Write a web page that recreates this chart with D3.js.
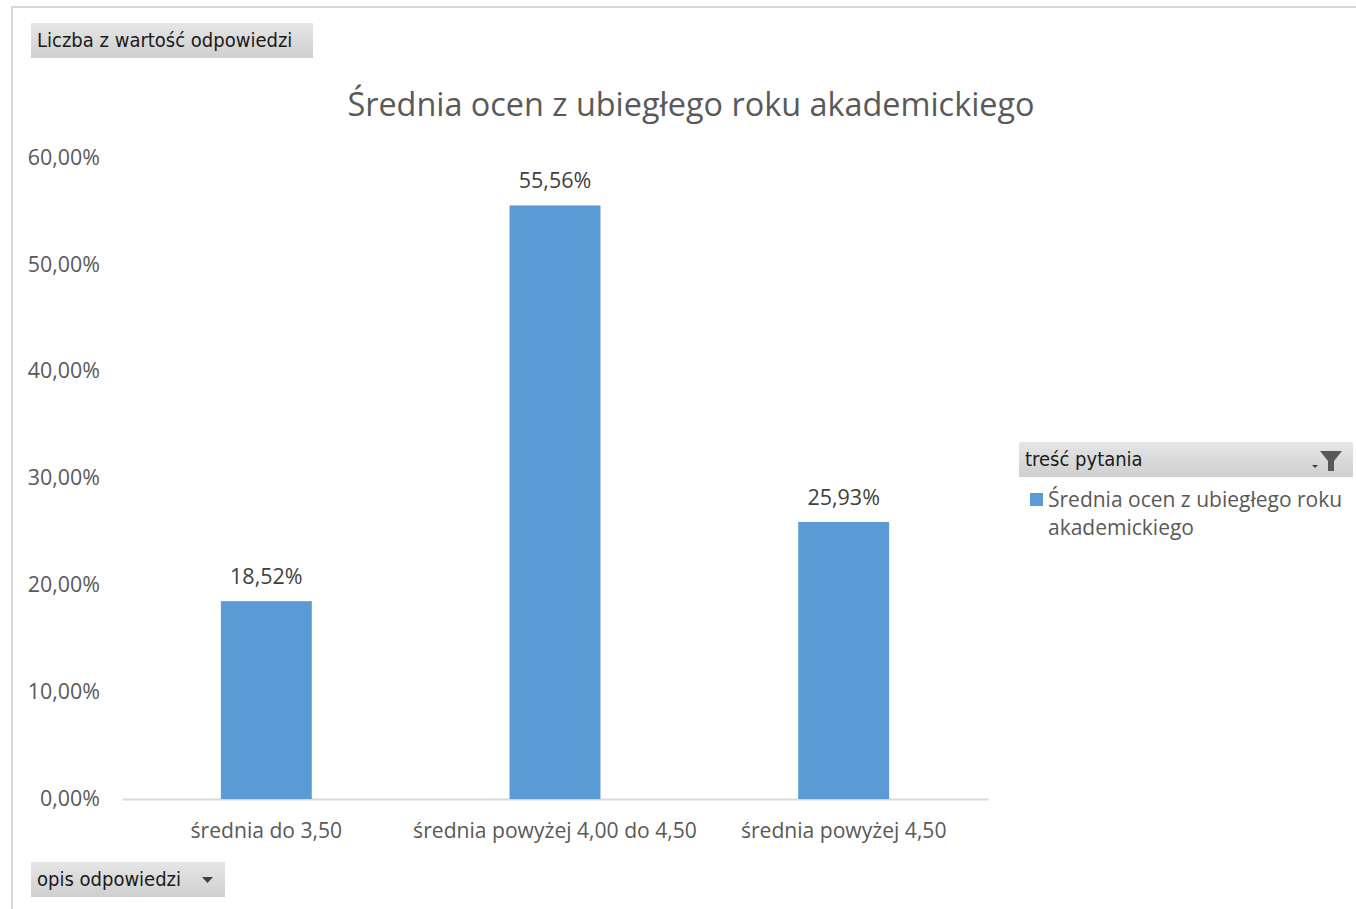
<!DOCTYPE html>
<html><head><meta charset="utf-8">
<script src="https://cdn.jsdelivr.net/npm/d3@7"></script>
<style>
html,body{margin:0;padding:0;background:#fff;}
svg text{font-family:"Open Sans","Noto Sans",sans-serif;}
</style></head>
<body><svg id="c" width="1356" height="909"></svg>
<script>
const categories = ["średnia do 3,50", "średnia powyżej 4,00 do 4,50", "średnia powyżej 4,50"];
const values = [0.1852, 0.5556, 0.2593];
const yTicks = [0, 0.1, 0.2, 0.3, 0.4, 0.5, 0.6];
const title = "Średnia ocen z ubiegłego roku akademickiego";
const seriesName = "Średnia ocen z ubiegłego roku akademickiego";

const svg = d3.select("#c");
const fmt = v => (v*100).toFixed(2).replace(".", ",") + "%";
const textCol = "#595959";
const barCol = "#5b9bd5";

// outer border
svg.append("path").attr("d","M12,909 V7 H1356").attr("fill","none").attr("stroke","#d9d9d9").attr("stroke-width",2);

const x = d3.scaleBand().domain(categories).range([122, 988]).padding(0);
const y = d3.scaleLinear().domain([0, 0.6]).range([799, 158]);
const barW = x.bandwidth()*0.315;

// gradient for buttons
const defs = svg.append("defs");
const g = defs.append("linearGradient").attr("id","btn").attr("x1",0).attr("y1",0).attr("x2",0).attr("y2",1);
g.append("stop").attr("offset","0%").attr("stop-color","#e6e6e6");
g.append("stop").attr("offset","100%").attr("stop-color","#cfcfcf");

function button(x0,y0,w,h,label,fs){
  svg.append("rect").attr("x",x0).attr("y",y0).attr("width",w).attr("height",h).attr("fill","url(#btn)");
  svg.append("text").attr("x",x0+6).attr("y",y0+h/2+1).attr("dominant-baseline","middle")
    .attr("font-size",fs).attr("fill","#1a1a1a").style("font-family","'DejaVu Sans Condensed','Liberation Sans Narrow','Liberation Sans',sans-serif").text(label);
}
button(31,23,282,35,"Liczba z wartość odpowiedzi",20);
button(31,862,194,35,"opis odpowiedzi",20);
svg.append("path").attr("d","M202,877 h11 l-5.5,6 z").attr("fill","#404040");

// title
svg.append("text").attr("x",691).attr("y",107).attr("text-anchor","middle").attr("dominant-baseline","middle")
  .attr("font-size",32.4).attr("fill",textCol).text(title);

// y axis labels
svg.append("g").selectAll("text").data(yTicks).join("text")
  .attr("x",100).attr("y",d=>y(d)+1).attr("text-anchor","end").attr("dominant-baseline","middle")
  .attr("font-size",21.4).attr("fill",textCol).text(fmt);

// x axis
const xAxis = svg.append("g").attr("transform","translate(0,799)")
  .call(d3.axisBottom(x).tickSize(0).tickPadding(24));
xAxis.select(".domain").attr("stroke","#d9d9d9").attr("stroke-width",2);
xAxis.selectAll("text").attr("font-size",21.1).attr("fill",textCol).style("font-family","'Open Sans','Noto Sans',sans-serif");

// bars
svg.append("g").selectAll("rect").data(values).join("rect")
  .attr("x",(d,i)=>x(categories[i])+x.bandwidth()/2-barW/2)
  .attr("width",barW)
  .attr("y",d=>y(d)).attr("height",d=>799-y(d)).attr("fill",barCol);

// data labels
svg.append("g").selectAll("text").data(values).join("text")
  .attr("x",(d,i)=>x(categories[i])+x.bandwidth()/2)
  .attr("y",d=>y(d)-23).attr("text-anchor","middle").attr("dominant-baseline","middle")
  .attr("font-size",21.5).attr("fill","#404040").text(fmt);

// legend header
button(1019,442,334,35,"treść pytania",20);
svg.append("path").attr("d","M1320,451 h22 l-8,10 v10 h-6 v-10 z").attr("fill","#595959");
svg.append("path").attr("d","M1312,465 h6 l-3,3 z").attr("fill","#404040");

// legend item
svg.append("rect").attr("x",1030).attr("y",493).attr("width",13).attr("height",13).attr("fill",barCol);
const lt = svg.append("text").attr("x",1048).attr("y",501).attr("dominant-baseline","middle").attr("font-size",21).attr("fill",textCol);
const words = seriesName.split(" ");
lt.append("tspan").attr("x",1048).text(words.slice(0,5).join(" "));
lt.append("tspan").attr("x",1048).attr("dy",28).text(words.slice(5).join(" "));
</script></body></html>
